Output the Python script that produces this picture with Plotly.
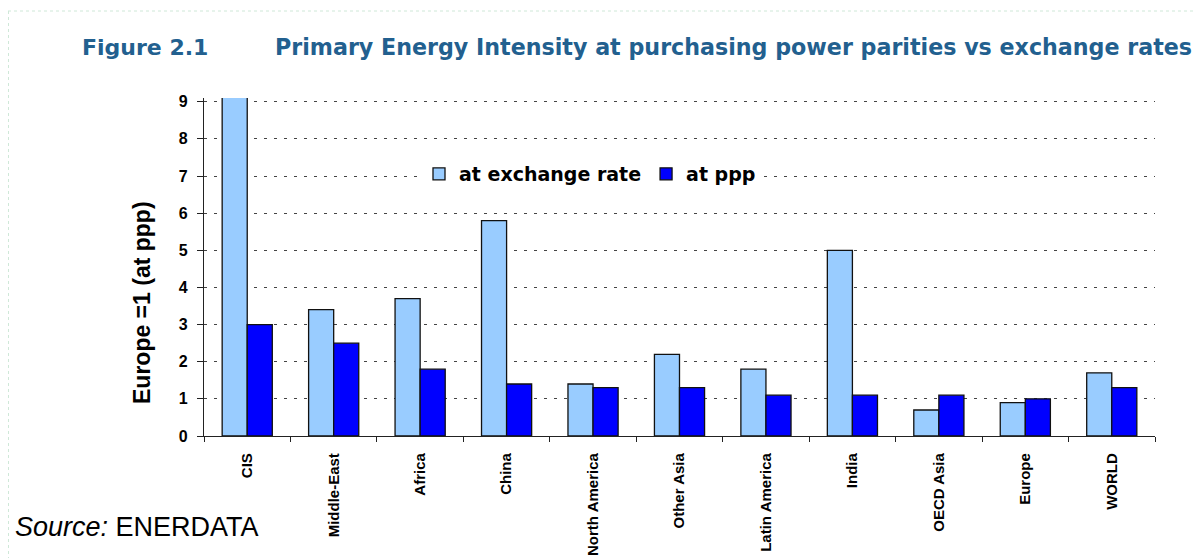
import plotly.graph_objects as go

categories = ["CIS", "Middle-East", "Africa", "China", "North America", "Other Asia",
              "Latin America", "India", "OECD Asia", "Europe", "WORLD"]
exchange_rate = [9.6, 3.4, 3.7, 5.8, 1.4, 2.2, 1.8, 5.0, 0.7, 0.9, 1.7]
ppp = [3.0, 2.5, 1.8, 1.4, 1.3, 1.3, 1.1, 1.1, 1.1, 1.0, 1.3]
y_ticks = [0, 1, 2, 3, 4, 5, 6, 7, 8, 9]

fig = go.Figure()
fig.add_trace(go.Bar(x=categories, y=exchange_rate, name="at exchange rate",
                     marker=dict(color="#99CCFF", line=dict(color="#111111", width=1.3))))
fig.add_trace(go.Bar(x=categories, y=ppp, name="at ppp",
                     marker=dict(color="#0000FF", line=dict(color="#111111", width=1.3))))

# page has an 8px body margin; figure is drawn at (8, 8)
OFF = 8
L, R, T, B = 196, 48, 90, 122
W, H = 1195, 550
pw, ph = W - L - R, H - T - B

def px_x(p):  # page pixel -> paper x
    return (p - OFF - L) / pw

def px_y(p):  # page pixel -> paper y
    return (H - B - (p - OFF)) / ph

SANS = "Liberation Sans, Arial, sans-serif"
WIDE = "DejaVu Sans, Verdana, sans-serif"

fig.update_layout(
    width=W, height=H,
    margin=dict(l=L, r=R, t=T, b=B, autoexpand=False),
    paper_bgcolor="white", plot_bgcolor="white",
    barmode="group", bargap=0.42, bargroupgap=0,
    font=dict(family=SANS, color="black"),
    showlegend=True,
    legend=dict(orientation="h", x=px_x(419), y=px_y(155), xanchor="left", yanchor="top",
                bgcolor="white", font=dict(size=19, family=WIDE, color="black", weight="bold"),
                itemwidth=30, traceorder="normal"),
    xaxis=dict(showline=True, linecolor="#222222", linewidth=1.3, ticks="outside",
               tickson="boundaries", ticklen=5, tickcolor="#222222", tickangle=-90,
               ticklabelstandoff=10, automargin=False,
               tickvals=categories, ticktext=[f"<b>{c}</b>" for c in categories],
               tickfont=dict(size=15, family=SANS, color="black"),
               showgrid=False),
    yaxis=dict(range=[0, 9.1], tickvals=y_ticks, ticktext=[f"<b>{v}</b>" for v in y_ticks],
               showline=True, linecolor="#222222", linewidth=1.3, automargin=False,
               ticks="outside", ticklen=6, tickcolor="#222222", ticklabelstandoff=6,
               tickfont=dict(size=16, family=SANS, color="black"),
               showgrid=True, gridcolor="#444444", gridwidth=1, griddash="3px,7px",
               zeroline=False),
)

title_color = "#22608F"
fig.add_annotation(text="<b>Figure 2.1</b>", xref="paper", yref="paper",
                   x=px_x(80), y=px_y(47), xanchor="left", yanchor="middle", showarrow=False,
                   font=dict(size=22, color=title_color, family=WIDE))
fig.add_annotation(text="<b>Primary Energy Intensity at purchasing power parities vs exchange rates</b>",
                   xref="paper", yref="paper",
                   x=px_x(273), y=px_y(47), xanchor="left", yanchor="middle", showarrow=False,
                   font=dict(size=22.2, color=title_color, family=WIDE))
fig.add_annotation(text="<b>Europe =1 (at ppp)</b>", xref="paper", yref="paper", textangle=-90,
                   x=px_x(142), y=px_y(303), xanchor="center", yanchor="middle", showarrow=False,
                   font=dict(size=23, color="black", family=SANS))
fig.add_annotation(text="<i>Source:</i> ENERDATA", xref="paper", yref="paper",
                   x=px_x(13), y=px_y(527), xanchor="left", yanchor="middle", showarrow=False,
                   font=dict(size=27, color="black", family=SANS))

# faint page border
fig.add_shape(type="line", xref="paper", yref="paper", x0=px_x(8), x1=px_x(1203), y0=px_y(11), y1=px_y(11),
              line=dict(color="#CFE8D8", width=1, dash="dot"))
fig.add_shape(type="line", xref="paper", yref="paper", x0=px_x(8.5), x1=px_x(8.5), y0=px_y(11), y1=px_y(558),
              line=dict(color="#CFE8D8", width=1, dash="dot"))

fig.write_html("out.html")
